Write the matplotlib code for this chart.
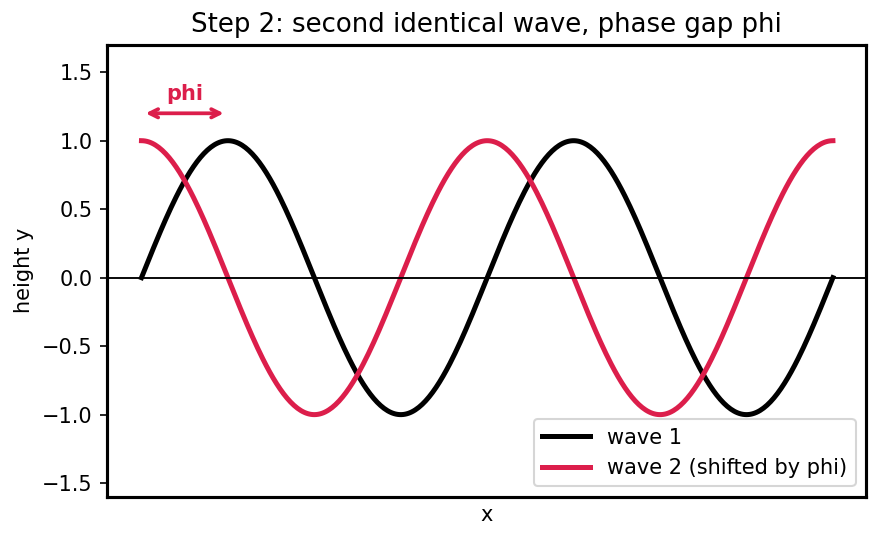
import numpy as np
import matplotlib
matplotlib.use("Agg")
import matplotlib.pyplot as plt

# wave parameters
amplitude = 1.0
n_periods = 2
phase_gap = np.pi / 2   # wave 2 leads wave 1 by phi
n_samples = 400

labels = ["wave 1", "wave 2 (shifted by phi)"]
colors = ["black", "#dc1e4b"]

x = np.linspace(0, n_periods * 2 * np.pi, n_samples)
wave1 = amplitude * np.sin(x)
wave2 = amplitude * np.sin(x + phase_gap)

fig, ax = plt.subplots(figsize=(880 / 150, 540 / 150), dpi=150)

ax.plot(x, wave1, color=colors[0], lw=2.4, label=labels[0])
ax.plot(x, wave2, color=colors[1], lw=2.4, label=labels[1])
ax.axhline(0, color="black", lw=0.9)

# phase gap marker
ax.annotate("", xy=(phase_gap, 1.2), xytext=(0, 1.2),
            arrowprops=dict(arrowstyle="<->", color=colors[1], lw=1.8))
ax.text(phase_gap / 2, 1.27, "phi", color=colors[1], fontweight="bold",
        ha="center", va="bottom", fontsize=10)

ax.set_xlim(-0.62, n_periods * 2 * np.pi + 0.6)
ax.set_ylim(-1.6, 1.7)
ax.set_xticks([])
ax.set_xlabel("x")
ax.set_ylabel("height y")
ax.set_title("Step 2: second identical wave, phase gap phi", fontsize=12.5)
for s in ax.spines.values():
    s.set_linewidth(1.5)
ax.legend(loc="lower right", fontsize=10, handlelength=2.3)

fig.subplots_adjust(left=0.122, right=0.984, top=0.917, bottom=0.08)
fig.savefig("out.png", dpi=150)
